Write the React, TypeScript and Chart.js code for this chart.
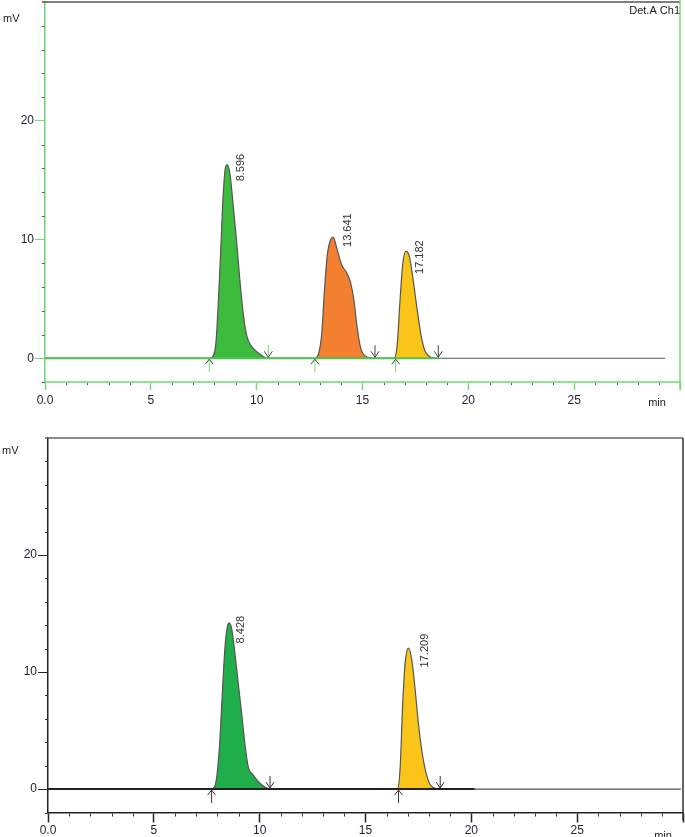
import React, { useEffect, useRef } from 'react';
import { Chart, registerables } from 'chart.js';

Chart.register(...registerables);

const FONT = "'Liberation Sans', Arial, sans-serif";

// ---------- axis tick labels ----------
const xTickLabels = ['0.0', '5', '10', '15', '20', '25'];
const yTickLabels = ['0', '10', '20'];

// ---------- top chromatogram (Det.A Ch1) ----------
const topPeak1Time = [7.79, 7.95, 8.08, 8.19, 8.3, 8.42, 8.53, 8.61, 8.74, 8.9, 9.05, 9.21, 9.37, 9.53, 9.76, 10.08, 10.5];
const topPeak1Mv = [0, 0.2, 1.4, 4.8, 9.0, 13.8, 16.1, 16.3, 15.5, 12.7, 9.9, 6.5, 3.7, 1.9, 1.0, 0.45, 0];
const topPeak2Time = [12.75, 12.91, 13.07, 13.2, 13.34, 13.5, 13.62, 13.78, 14.01, 14.25, 14.44, 14.6, 14.75, 14.91, 15.12, 15.59];
const topPeak2Mv = [0, 0.3, 2.0, 5.65, 8.75, 10.0, 10.2, 9.3, 7.9, 7.2, 6.35, 4.8, 2.55, 0.9, 0.2, 0];
const topPeak3Time = [16.5, 16.64, 16.77, 16.9, 17.05, 17.21, 17.4, 17.59, 17.79, 18.0, 18.5];
const topPeak3Mv = [0, 1.15, 4.8, 7.9, 9.0, 8.6, 6.5, 4.0, 1.7, 0.45, 0];
const topTraceEnd = 29.3;
const topBaselineEnd = 18.58;
const topStartArrows = [7.76, 12.75, 16.57];
const topEndArrows = [10.55, 15.59, 18.58];
const topPeakLabels = ['8.596', '13.641', '17.182'];
const topLabelTime = [9.26, 14.31, 17.71];
const topLabelMv = [14.9, 9.37, 7.1];

// ---------- bottom chromatogram ----------
const botPeak1Time = [7.73, 7.89, 7.99, 8.12, 8.25, 8.36, 8.47, 8.56, 8.68, 8.83, 8.99, 9.15, 9.3, 9.46, 9.7, 10.01, 10.49];
const botPeak1Mv = [0, 0.3, 1.3, 4.2, 8.7, 12.1, 13.85, 14.2, 13.7, 11.6, 9.0, 6.45, 3.9, 1.9, 1.2, 0.5, 0];
const botPeak2Time = [16.51, 16.64, 16.75, 16.87, 17.03, 17.19, 17.35, 17.5, 17.66, 17.87, 18.09, 18.53];
const botPeak2Mv = [0, 1.9, 7.0, 10.7, 12.05, 11.0, 8.4, 5.6, 3.3, 1.3, 0.3, 0];
const botTraceEnd = 29.9;
const botBaselineEnd = 20.15;
const botStartArrows = [7.73, 16.56];
const botEndArrows = [10.49, 18.53];
const botPeakLabels = ['8.428', '17.209'];
const botLabelTime = [9.11, 17.82];
const botLabelMv = [12.45, 10.4];

const pts = (t: number[], v: number[]) => t.map((x, i) => ({ x, y: v[i] }));

const extrasPlugin = {
  id: 'extras',
  afterDraw(chart: any, _a: any, o: any) {
    const { ctx, chartArea: a } = chart;
    const xs = chart.scales.x;
    const ys = chart.scales.y;
    const y0 = ys.getPixelForValue(0);
    ctx.save();
    const seg = (x1: number, y1: number, x2: number, y2: number, c: string, w: number) => {
      ctx.beginPath();
      ctx.strokeStyle = c;
      ctx.lineWidth = w;
      ctx.moveTo(x1, y1);
      ctx.lineTo(x2, y2);
      ctx.stroke();
    };
    // frame
    seg(a.left - 3, a.top, a.right, a.top, o.topBorderColor, 1.5);
    seg(a.right, o.rightTop, a.right, a.bottom + o.rightExtra, o.rightColor, 1.5);
    // minor ticks
    for (let v = -2; v < 30; v += 2) {
      if (v % 10 !== 0) {
        const p = Math.round(ys.getPixelForValue(v)) + 0.5;
        seg(a.left - 3, p, a.left - 0.5, p, o.minorColor, 1);
      }
    }
    for (let t = 1; t < 30; t++) {
      if (t % 5 !== 0) {
        const p = Math.round(xs.getPixelForValue(t)) + 0.5;
        seg(p, a.bottom + 1, p, a.bottom + o.minorXLen, o.minorColor, 1);
      }
    }
    // integration arrows
    o.startArrows.forEach((t: number) => {
      const p = xs.getPixelForValue(t);
      seg(p, y0 + 1, p, y0 + 14, o.startShaft, 1);
      ctx.beginPath();
      ctx.strokeStyle = o.headColor;
      ctx.lineWidth = 1;
      ctx.moveTo(p - 4, y0 + 6);
      ctx.lineTo(p, y0 + 1);
      ctx.lineTo(p + 4, y0 + 6);
      ctx.stroke();
    });
    o.endArrows.forEach((t: number, i: number) => {
      const p = xs.getPixelForValue(t);
      seg(p, y0 - 13, p, y0 - 1, i === 0 ? o.firstEndShaft : o.headColor, 1);
      ctx.beginPath();
      ctx.strokeStyle = o.headColor;
      ctx.lineWidth = 1;
      ctx.moveTo(p - 4, y0 - 7);
      ctx.lineTo(p, y0 - 1);
      ctx.lineTo(p + 4, y0 - 7);
      ctx.stroke();
    });
    // peak labels (rotated)
    ctx.fillStyle = '#333';
    ctx.font = `11px ${FONT}`;
    o.labels.forEach((s: string, i: number) => {
      const px = xs.getPixelForValue(o.labelTime[i]);
      const py = ys.getPixelForValue(o.labelMv[i]);
      ctx.save();
      ctx.translate(px, py);
      ctx.rotate(-Math.PI / 2);
      ctx.textAlign = 'left';
      ctx.textBaseline = 'middle';
      ctx.fillText(s, 0, 0);
      ctx.restore();
    });
    // texts
    ctx.fillStyle = '#222';
    ctx.textBaseline = 'middle';
    ctx.textAlign = 'left';
    ctx.fillText('mV', o.mv[0], o.mv[1]);
    ctx.textAlign = 'center';
    ctx.fillText('min', o.min[0], o.min[1]);
    if (o.title) {
      ctx.textAlign = 'right';
      ctx.fillText(o.title, o.titlePos[0], o.titlePos[1]);
    }
    ctx.restore();
  },
};

function makeConfig(P: any) {
  const trace = [{ x: 0, y: 0 }];
  P.peaks.forEach((pk: any) => trace.push(...pk.data));
  trace.push({ x: P.traceEnd, y: 0 });
  const datasets: any[] = P.peaks.map((pk: any) => ({
    data: pk.data,
    borderWidth: 0,
    backgroundColor: pk.color,
    fill: 'origin',
    pointRadius: 0,
    cubicInterpolationMode: 'monotone',
    order: 3,
  }));
  datasets.push({
    data: trace,
    borderColor: '#555',
    borderWidth: 1.2,
    fill: false,
    pointRadius: 0,
    cubicInterpolationMode: 'monotone',
    order: 2,
  });
  datasets.push({
    data: [{ x: 0, y: 0 }, { x: P.baselineEnd, y: 0 }],
    borderColor: P.baselineColor,
    borderWidth: P.baselineWidth,
    fill: false,
    pointRadius: 0,
    order: 1,
  });
  return {
    type: 'line',
    data: { datasets },
    plugins: [extrasPlugin],
    options: {
      responsive: false,
      animation: false,
      devicePixelRatio: 1,
      events: [],
      layout: { padding: { top: P.padTop, right: P.padRight, left: 0, bottom: 0 } },
      plugins: { legend: { display: false }, tooltip: { enabled: false }, extras: P.extras },
      scales: {
        x: {
          type: 'linear',
          min: 0,
          max: 30,
          afterFit: (s: any) => {
            s.height = P.xHeight;
            s.paddingLeft = 0;
            s.paddingRight = 0;
          },
          border: { display: true, color: P.xAxisColor, width: P.xAxisWidth },
          grid: {
            drawOnChartArea: false,
            drawTicks: true,
            tickLength: P.xTickLen,
            tickWidth: 1.5,
            tickColor: (c: any) => (c.tick && c.tick.value % 5 === 0 ? P.majorTick : 'rgba(0,0,0,0)'),
          },
          ticks: {
            stepSize: 1,
            autoSkip: false,
            maxRotation: 0,
            minRotation: 0,
            padding: P.xPad,
            color: '#23233a',
            font: { family: FONT, size: 12 },
            callback: (v: number) => (v % 5 === 0 && v < 30 ? xTickLabels[v / 5] : ''),
          },
        },
        y: {
          type: 'linear',
          min: -2,
          max: 30,
          afterFit: (s: any) => {
            s.width = P.yWidth;
            s.paddingTop = 0;
            s.paddingBottom = 0;
          },
          border: { display: true, color: P.yAxisColor, width: 1.5 },
          grid: {
            drawOnChartArea: false,
            drawTicks: true,
            tickLength: 10,
            tickWidth: 1,
            tickColor: (c: any) =>
              c.tick && c.tick.value % 10 === 0 && c.tick.value >= 0 && c.tick.value <= 20 ? P.majorTick : 'rgba(0,0,0,0)',
          },
          ticks: {
            stepSize: 2,
            autoSkip: false,
            padding: 1,
            color: '#23233a',
            font: { family: FONT, size: 12 },
            callback: (v: number) => (v % 10 === 0 && v >= 0 && v <= 20 ? yTickLabels[v / 10] : ''),
          },
        },
      },
    },
  };
}

const topParams = {
  peaks: [
    { data: pts(topPeak1Time, topPeak1Mv), color: '#3dbb3d' },
    { data: pts(topPeak2Time, topPeak2Mv), color: '#f37f31' },
    { data: pts(topPeak3Time, topPeak3Mv), color: '#fbc418' },
  ],
  traceEnd: topTraceEnd,
  baselineEnd: topBaselineEnd,
  baselineColor: '#4cc44c',
  baselineWidth: 2,
  padTop: 2,
  padRight: 5,
  xHeight: 38,
  yWidth: 45,
  xAxisColor: '#96e096',
  xAxisWidth: 2,
  yAxisColor: '#6fd46f',
  xTickLen: 8,
  xPad: 3,
  majorTick: '#7ad87a',
  extras: {
    topBorderColor: '#555',
    rightColor: '#7ad87a',
    rightTop: 0,
    rightExtra: 8,
    minorColor: '#555',
    minorXLen: 3,
    startArrows: topStartArrows,
    endArrows: topEndArrows,
    startShaft: '#7ad87a',
    firstEndShaft: '#7ad87a',
    headColor: '#444',
    labels: topPeakLabels,
    labelTime: topLabelTime,
    labelMv: topLabelMv,
    mv: [3, 19],
    min: [657, 403],
    title: 'Det.A Ch1',
    titlePos: [680, 11],
  },
};

const botParams = {
  peaks: [
    { data: pts(botPeak1Time, botPeak1Mv), color: '#20ae4b' },
    { data: pts(botPeak2Time, botPeak2Mv), color: '#fbc418' },
  ],
  traceEnd: botTraceEnd,
  baselineEnd: botBaselineEnd,
  baselineColor: '#222',
  baselineWidth: 2,
  padTop: 18,
  padRight: 2,
  xHeight: 24.5,
  yWidth: 48,
  xAxisColor: '#222',
  xAxisWidth: 1.5,
  yAxisColor: '#222',
  xTickLen: 10,
  xPad: 1,
  majorTick: '#222',
  extras: {
    topBorderColor: '#666',
    rightColor: '#333',
    rightTop: 18,
    rightExtra: 8,
    minorColor: '#333',
    minorXLen: 4,
    startArrows: botStartArrows,
    endArrows: botEndArrows,
    startShaft: '#333',
    firstEndShaft: '#333',
    headColor: '#333',
    labels: botPeakLabels,
    labelTime: botLabelTime,
    labelMv: botLabelMv,
    mv: [2, 31],
    min: [663, 416],
    title: '',
    titlePos: [0, 0],
  },
};

function ChromChart({ params, height }: { params: any; height: number }) {
  const ref = useRef<HTMLCanvasElement | null>(null);
  useEffect(() => {
    if (!ref.current) return;
    const chart = new Chart(ref.current, makeConfig(params) as any);
    return () => chart.destroy();
  }, [params]);
  return <canvas ref={ref} width={685} height={height} style={{ display: 'block', width: 685, height }} />;
}

export default function App() {
  return (
    <div style={{ position: 'absolute', left: 0, top: 0, width: 685, height: 837, background: '#fff' }}>
      <ChromChart params={topParams} height={420} />
      <ChromChart params={botParams} height={417} />
    </div>
  );
}
